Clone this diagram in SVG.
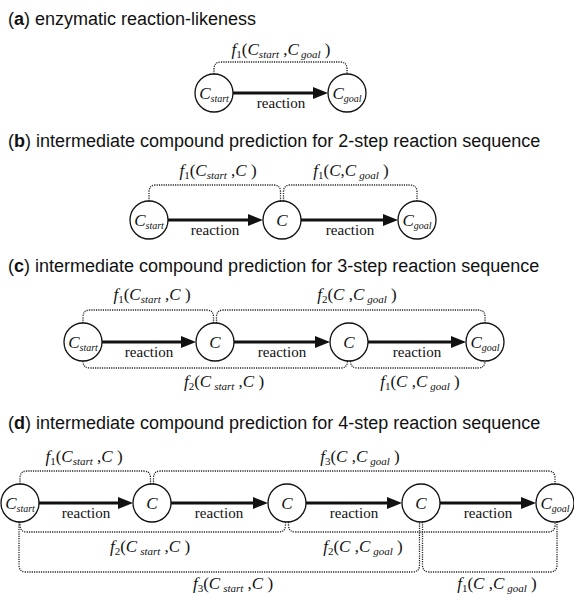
<svg xmlns="http://www.w3.org/2000/svg" width="574" height="596" viewBox="0 0 574 596">
  <style>
    .t { font-family: "Liberation Sans", Arial, sans-serif; font-size: 18px; fill: #111; }
    .b { font-weight: bold; }
    .m { font-family: "Liberation Serif", "Times New Roman", serif; font-size: 17px; fill: #111; text-anchor: middle; }
    .i { font-style: italic; }
    .s { font-size: 11px; }
    .sn { font-size: 10px; }
    .rx { font-family: "Liberation Serif", "Times New Roman", serif; font-size: 15px; fill: #111; text-anchor: middle; }
    .node circle { fill: #fff; stroke: #111; stroke-width: 1.3; }
    .arrow { stroke: #111; stroke-width: 2.8; fill: none; marker-end: url(#ah); }
    .dot { fill: none; stroke: #222; stroke-width: 1.3; stroke-dasharray: 1.2 1.1; }
  </style>
  <defs>
    <marker id="ah" markerUnits="userSpaceOnUse" markerWidth="15" markerHeight="12" refX="7" refY="6" orient="auto">
      <path d="M0,0 L15,6 L0,12 z" fill="#111"/>
    </marker>
  </defs>

  <rect width="574" height="596" fill="#fff"/>

  <!-- panel titles -->
  <g id="titles">
    <text class="t" x="8" y="25">(<tspan class="b">a</tspan>) enzymatic reaction-likeness</text>
    <text class="t" x="8" y="147">(<tspan class="b">b</tspan>) intermediate compound prediction for 2-step reaction sequence</text>
    <text class="t" x="8" y="272">(<tspan class="b">c</tspan>) intermediate compound prediction for 3-step reaction sequence</text>
    <text class="t" x="8" y="429">(<tspan class="b">d</tspan>) intermediate compound prediction for 4-step reaction sequence</text>
  </g>

  <!-- connectors: reaction arrows and dotted similarity brackets -->
  <g id="connectors">
    <!-- (a) -->
    <line class="arrow" x1="233" y1="93" x2="320" y2="93"/>
    <path class="dot" d="M214,74 V69 Q214,62 221,62 H340 Q347,62 347,69 V74"/>

    <!-- (b) -->
    <line class="arrow" x1="168" y1="220" x2="255" y2="220"/>
    <line class="arrow" x1="301" y1="220" x2="390" y2="220"/>
    <path class="dot" d="M149,201 V192 Q149,185 156,185 H273.5 Q280.5,185 280.5,192 V201"/>
    <path class="dot" d="M283.5,201 V192 Q283.5,185 290.5,185 H410 Q417,185 417,192 V201"/>

    <!-- (c) -->
    <line class="arrow" x1="102" y1="342" x2="188" y2="342"/>
    <line class="arrow" x1="234" y1="342" x2="322" y2="342"/>
    <line class="arrow" x1="368" y1="342" x2="458" y2="342"/>
    <path class="dot" d="M83,323 V317 Q83,310 90,310 H206.5 Q213.5,310 213.5,317 V323"/>
    <path class="dot" d="M216.5,323 V317 Q216.5,310 223.5,310 H478 Q485,310 485,317 V323"/>
    <path class="dot" d="M83,361 Q83,368 90,368 H340.5 Q347.5,368 347.5,361"/>
    <path class="dot" d="M350.5,361 Q350.5,368 357.5,368 H478 Q485,368 485,361"/>

    <!-- (d) -->
    <line class="arrow" x1="39" y1="503" x2="125" y2="503"/>
    <line class="arrow" x1="171" y1="503" x2="260" y2="503"/>
    <line class="arrow" x1="306" y1="503" x2="394" y2="503"/>
    <line class="arrow" x1="440" y1="503" x2="528" y2="503"/>
    <path class="dot" d="M20,484 V478 Q20,471 27,471 H143.5 Q150.5,471 150.5,478 V484"/>
    <path class="dot" d="M153.5,484 V478 Q153.5,471 160.5,471 H548 Q555,471 555,478 V484"/>
    <path class="dot" d="M20,522 V525 Q20,532 27,532 H278.5 Q285.5,532 285.5,525 V522"/>
    <path class="dot" d="M288.5,522 V525 Q288.5,532 295.5,532 H548 Q555,532 555,525 V522"/>
    <path class="dot" d="M19,522 V565 Q19,572 26,572 H412.5 Q419.5,572 419.5,565 V522"/>
    <path class="dot" d="M422.5,522 V565 Q422.5,572 429.5,572 H550 Q557,572 557,565 V522"/>
  </g>

  <!-- reaction labels -->
  <g id="reaction-labels">
    <text class="rx" x="281" y="108">reaction</text>
    <text class="rx" x="215" y="235">reaction</text>
    <text class="rx" x="350" y="235">reaction</text>
    <text class="rx" x="149" y="357">reaction</text>
    <text class="rx" x="282" y="357">reaction</text>
    <text class="rx" x="417" y="357">reaction</text>
    <text class="rx" x="86" y="518">reaction</text>
    <text class="rx" x="219" y="518">reaction</text>
    <text class="rx" x="354" y="518">reaction</text>
    <text class="rx" x="488" y="518">reaction</text>
  </g>

  <!-- similarity function labels -->
  <g id="function-labels">
    <!-- (a) -->
    <text class="m" x="281" y="55"><tspan class="i">f</tspan><tspan class="s" dy="3">1</tspan><tspan dy="-3">(</tspan><tspan class="i">C</tspan><tspan class="s i" dy="3">start</tspan><tspan dy="-3"> ,</tspan><tspan class="i">C</tspan><tspan class="s i" dy="3" dx="2">goal</tspan><tspan dy="-3"> )</tspan></text>
    <!-- (b) -->
    <text class="m" x="218" y="176"><tspan class="i">f</tspan><tspan class="s" dy="3">1</tspan><tspan dy="-3">(</tspan><tspan class="i">C</tspan><tspan class="s i" dy="3">start</tspan><tspan dy="-3"> ,</tspan><tspan class="i">C</tspan><tspan> )</tspan></text>
    <text class="m" x="351" y="176"><tspan class="i">f</tspan><tspan class="s" dy="3">1</tspan><tspan dy="-3">(</tspan><tspan class="i">C</tspan><tspan>,</tspan><tspan class="i">C</tspan><tspan class="s i" dy="3" dx="3">goal</tspan><tspan dy="-3"> )</tspan></text>
    <!-- (c) -->
    <text class="m" x="152" y="300"><tspan class="i">f</tspan><tspan class="s" dy="3">1</tspan><tspan dy="-3">(</tspan><tspan class="i">C</tspan><tspan class="s i" dy="3">start</tspan><tspan dy="-3"> ,</tspan><tspan class="i">C</tspan><tspan> )</tspan></text>
    <text class="m" x="357" y="300"><tspan class="i">f</tspan><tspan class="s" dy="3">2</tspan><tspan dy="-3">(</tspan><tspan class="i">C</tspan><tspan> ,</tspan><tspan class="i">C</tspan><tspan class="s i" dy="3" dx="3">goal</tspan><tspan dy="-3"> )</tspan></text>
    <text class="m" x="224" y="387"><tspan class="i">f</tspan><tspan class="s" dy="3">2</tspan><tspan dy="-3">(</tspan><tspan class="i">C</tspan><tspan class="s i" dy="3" dx="3">start</tspan><tspan dy="-3"> ,</tspan><tspan class="i">C</tspan><tspan> )</tspan></text>
    <text class="m" x="420" y="387"><tspan class="i">f</tspan><tspan class="s" dy="3">1</tspan><tspan dy="-3">(</tspan><tspan class="i">C</tspan><tspan> ,</tspan><tspan class="i">C</tspan><tspan class="s i" dy="3" dx="3">goal</tspan><tspan dy="-3"> )</tspan></text>
    <!-- (d) -->
    <text class="m" x="84" y="462"><tspan class="i">f</tspan><tspan class="s" dy="3">1</tspan><tspan dy="-3">(</tspan><tspan class="i">C</tspan><tspan class="s i" dy="3">start</tspan><tspan dy="-3"> ,</tspan><tspan class="i">C</tspan><tspan> )</tspan></text>
    <text class="m" x="360" y="462"><tspan class="i">f</tspan><tspan class="s" dy="3">3</tspan><tspan dy="-3">(</tspan><tspan class="i">C</tspan><tspan> ,</tspan><tspan class="i">C</tspan><tspan class="s i" dy="3" dx="3">goal</tspan><tspan dy="-3"> )</tspan></text>
    <text class="m" x="150" y="552"><tspan class="i">f</tspan><tspan class="s" dy="3">2</tspan><tspan dy="-3">(</tspan><tspan class="i">C</tspan><tspan class="s i" dy="3" dx="3">start</tspan><tspan dy="-3"> ,</tspan><tspan class="i">C</tspan><tspan> )</tspan></text>
    <text class="m" x="363" y="552"><tspan class="i">f</tspan><tspan class="s" dy="3">2</tspan><tspan dy="-3">(</tspan><tspan class="i">C</tspan><tspan> ,</tspan><tspan class="i">C</tspan><tspan class="s i" dy="3" dx="3">goal</tspan><tspan dy="-3"> )</tspan></text>
    <text class="m" x="233" y="589"><tspan class="i">f</tspan><tspan class="s" dy="3">3</tspan><tspan dy="-3">(</tspan><tspan class="i">C</tspan><tspan class="s i" dy="3" dx="3">start</tspan><tspan dy="-3"> ,</tspan><tspan class="i">C</tspan><tspan> )</tspan></text>
    <text class="m" x="497" y="589"><tspan class="i">f</tspan><tspan class="s" dy="3">1</tspan><tspan dy="-3">(</tspan><tspan class="i">C</tspan><tspan> ,</tspan><tspan class="i">C</tspan><tspan class="s i" dy="3" dx="3">goal</tspan><tspan dy="-3"> )</tspan></text>
  </g>

  <!-- compound nodes -->
  <g id="a-start" class="node"><circle cx="214" cy="93" r="19"/><text class="m" x="214" y="99"><tspan class="i">C</tspan><tspan class="sn i" dy="3">start</tspan></text></g>
  <g id="a-goal" class="node"><circle cx="347" cy="93" r="19"/><text class="m" x="347" y="99"><tspan class="i">C</tspan><tspan class="sn i" dy="3">goal</tspan></text></g>

  <g id="b-start" class="node"><circle cx="149" cy="220" r="19"/><text class="m" x="149" y="226"><tspan class="i">C</tspan><tspan class="sn i" dy="3">start</tspan></text></g>
  <g id="b-mid" class="node"><circle cx="282" cy="220" r="19"/><text class="m i" x="282" y="226">C</text></g>
  <g id="b-goal" class="node"><circle cx="417" cy="220" r="19"/><text class="m" x="417" y="226"><tspan class="i">C</tspan><tspan class="sn i" dy="3">goal</tspan></text></g>

  <g id="c-start" class="node"><circle cx="83" cy="342" r="19"/><text class="m" x="83" y="348"><tspan class="i">C</tspan><tspan class="sn i" dy="3">start</tspan></text></g>
  <g id="c-mid1" class="node"><circle cx="215" cy="342" r="19"/><text class="m i" x="215" y="348">C</text></g>
  <g id="c-mid2" class="node"><circle cx="349" cy="342" r="19"/><text class="m i" x="349" y="348">C</text></g>
  <g id="c-goal" class="node"><circle cx="485" cy="342" r="19"/><text class="m" x="485" y="348"><tspan class="i">C</tspan><tspan class="sn i" dy="3">goal</tspan></text></g>

  <g id="d-start" class="node"><circle cx="20" cy="503" r="19"/><text class="m" x="20" y="509"><tspan class="i">C</tspan><tspan class="sn i" dy="3">start</tspan></text></g>
  <g id="d-mid1" class="node"><circle cx="152" cy="503" r="19"/><text class="m i" x="152" y="509">C</text></g>
  <g id="d-mid2" class="node"><circle cx="287" cy="503" r="19"/><text class="m i" x="287" y="509">C</text></g>
  <g id="d-mid3" class="node"><circle cx="421" cy="503" r="19"/><text class="m i" x="421" y="509">C</text></g>
  <g id="d-goal" class="node"><circle cx="555" cy="503" r="19"/><text class="m" x="555" y="509"><tspan class="i">C</tspan><tspan class="sn i" dy="3">goal</tspan></text></g>
</svg>
